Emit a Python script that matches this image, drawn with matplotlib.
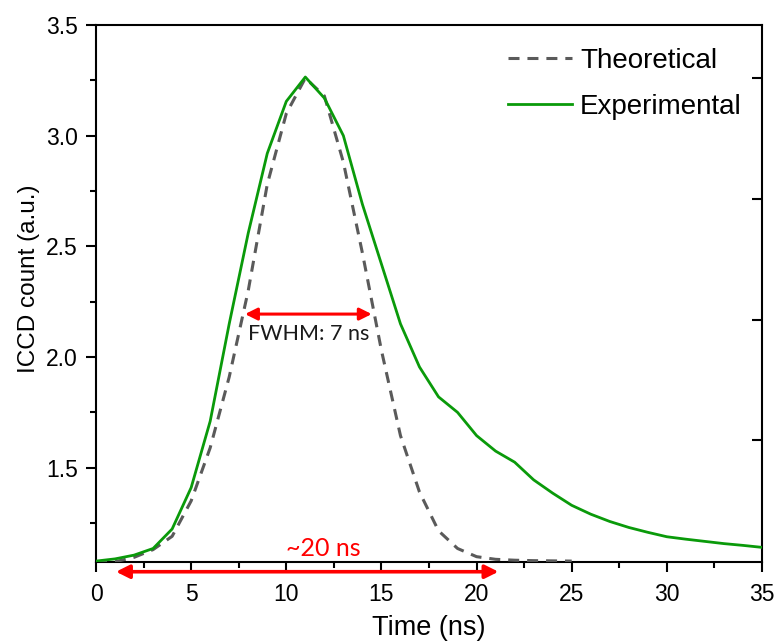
import matplotlib
matplotlib.use("Agg")
import matplotlib.pyplot as plt
from matplotlib.ticker import MultipleLocator, NullFormatter

# ── datos ──
tiempo_exp = list(range(0, 36))
cuentas_exp = [1.078, 1.088, 1.105, 1.135, 1.223, 1.41, 1.71, 2.15, 2.56, 2.92,
               3.155, 3.265, 3.17, 3.0, 2.69, 2.42, 2.15, 1.955, 1.82, 1.75,
               1.645, 1.575, 1.525, 1.445, 1.385, 1.33, 1.29, 1.257, 1.23, 1.208,
               1.188, 1.177, 1.167, 1.157, 1.149, 1.14]

tiempo_teo = list(range(0, 26))
cuentas_teo = [1.072, 1.075, 1.095, 1.13, 1.19, 1.35, 1.59, 1.91, 2.30, 2.78,
               3.10, 3.26, 3.18, 2.88, 2.47, 2.03, 1.645, 1.39, 1.215, 1.135,
               1.098, 1.086, 1.082, 1.08, 1.079, 1.078]

fwhm_ini, fwhm_fin, fwhm_y = 7.83, 14.49, 2.194
total_ini, total_fin, total_y = 1.05, 21.15, 1.03

VERDE = "#0A9A0A"
GRIS = "#5A5A5A"
ROJO = "#FF0000"
ARIAL = "Liberation Sans"
CALIBRI = "Lato"

fig = plt.figure(figsize=(7.75, 6.43), dpi=100)
ax = fig.add_axes([0.1239, 0.126, 0.8593, 0.8351])

ax.plot(tiempo_teo, cuentas_teo, color=GRIS, lw=2.2, dashes=(3.6, 2.6),
        label="Theoretical", zorder=3)
ax.plot(tiempo_exp, cuentas_exp, color=VERDE, lw=2.0, label="Experimental", zorder=4)

ax.set_xlim(0, 35)
ax.set_ylim(1.074, 3.5)

# ── flechas ──
ax.annotate("", xy=(fwhm_fin, fwhm_y), xytext=(fwhm_ini, fwhm_y),
            arrowprops=dict(arrowstyle="<|-|>", color=ROJO, lw=2.2,
                            mutation_scale=18, shrinkA=0, shrinkB=0), zorder=5)
ax.text((fwhm_ini + fwhm_fin) / 2, 2.105, "FWHM: 7 ns", ha="center", va="center",
        fontsize=15.5, family=CALIBRI, color="#1a1a1a")

ax.annotate("", xy=(total_ini, total_y), xytext=(total_fin, total_y),
            arrowprops=dict(arrowstyle="<|-|>", color=ROJO, lw=2.6,
                            mutation_scale=20, shrinkA=0, shrinkB=0),
            annotation_clip=False, zorder=5)
ax.text(11.93, 1.135, "~20 ns", ha="center", va="center", fontsize=18,
        family=CALIBRI, color=ROJO, clip_on=False)

# ── ejes estilo Origin ──
for lado in ["left", "bottom", "right", "top"]:
    ax.spines[lado].set_linewidth(1.5)
ax.xaxis.set_major_locator(MultipleLocator(5))
ax.xaxis.set_minor_locator(MultipleLocator(2.5))
ax.yaxis.set_major_locator(MultipleLocator(0.5))
ax.yaxis.set_minor_locator(MultipleLocator(0.25))
ax.tick_params(which="major", direction="out", length=7, width=1.5,
               labelsize=16.5, pad=6)
ax.tick_params(which="minor", direction="out", length=4, width=1.5)
ax.tick_params(axis="x", which="major", pad=8)
for lbl in ax.get_xticklabels() + ax.get_yticklabels():
    lbl.set_family(ARIAL)

# eje derecho con su propia escala (solo marcas hacia adentro)
der = ax.twinx()
der.set_ylim(ax.get_ylim())
der.set_yticks([3.2605, 2.7137, 2.167, 1.6247])
der.yaxis.set_major_formatter(NullFormatter())
der.tick_params(direction="in", length=7, width=1.5)
for lado in ["left", "bottom", "right", "top"]:
    der.spines[lado].set_visible(False)

ax.set_xlabel("Time (ns)", fontsize=19.5, family=ARIAL, va="center")
ax.xaxis.set_label_coords(0.5, -0.123)
ax.set_ylabel("ICCD count (a.u.)", fontsize=17.5, family=ARIAL, va="center", ha="center")
ax.yaxis.set_label_coords(-0.1, 0.527)

leg = ax.legend(loc="upper right", bbox_to_anchor=(0.995, 0.988), frameon=False,
                prop={"family": ARIAL, "size": 20}, handlelength=2.3,
                handletextpad=0.3, labelspacing=0.72, borderaxespad=0.2)

fig.savefig("out.png", dpi=100)
